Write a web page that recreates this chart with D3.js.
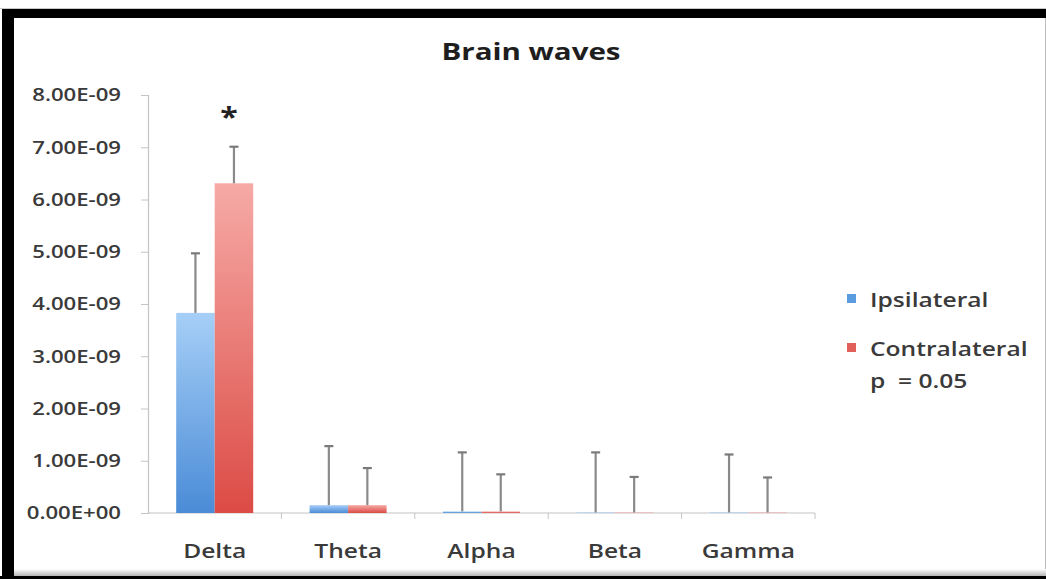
<!DOCTYPE html>
<html>
<head>
<meta charset="utf-8">
<script src="https://cdn.jsdelivr.net/npm/d3@7"></script>
<style>
  html, body { margin: 0; padding: 0; background: #fff; }
  svg { display: block; }
</style>
</head>
<body>
<svg id="chart" width="1046" height="579"></svg>
<script>
// Band power per frequency band, ipsilateral vs contralateral hemisphere
const categories = ["Delta", "Theta", "Alpha", "Beta", "Gamma"];
const seriesNames = ["Ipsilateral", "Contralateral"];
const ipsilateral = [3.83e-9, 0.15e-9, 0.03e-9, 0.01e-9, 0.01e-9];
const contralateral = [6.31e-9, 0.15e-9, 0.03e-9, 0.01e-9, 0.01e-9];
const ipsilateralErr = [1.14e-9, 1.13e-9, 1.13e-9, 1.15e-9, 1.11e-9];
const contralateralErr = [0.70e-9, 0.71e-9, 0.71e-9, 0.68e-9, 0.67e-9];
const yTicks = [0, 1e-9, 2e-9, 3e-9, 4e-9, 5e-9, 6e-9, 7e-9, 8e-9];
const significant = ["Delta"];
const legendNote = "p  = 0.05";

const FONT = "'Open Sans', 'DejaVu Sans', sans-serif";
const STRETCH = 1.23; // the slide's lettering is set wide
const svg = d3.select("#chart");

// Frame around the slide
svg.append("rect").attr("x", 0).attr("y", 0).attr("width", 1046).attr("height", 579).attr("fill", "#fff");
svg.append("line").attr("x1", 0).attr("x2", 1046).attr("y1", 8.5).attr("y2", 8.5).attr("stroke", "#c8c8c8");
svg.append("rect").attr("x", 5).attr("y", 9).attr("width", 1041).attr("height", 9).attr("fill", "#000");
svg.append("rect").attr("x", 2).attr("y", 9).attr("width", 12).attr("height", 570).attr("fill", "#000");
svg.append("line").attr("x1", 1045.5).attr("x2", 1045.5).attr("y1", 18).attr("y2", 579).attr("stroke", "#bdbdbd");
const defs = svg.append("defs");
const fade = defs.append("linearGradient").attr("id", "bottomFade").attr("x1", 0).attr("x2", 0).attr("y1", 0).attr("y2", 1);
fade.append("stop").attr("offset", 0).attr("stop-color", "#fff");
fade.append("stop").attr("offset", 1).attr("stop-color", "#b5b5b5");
svg.append("rect").attr("x", 14).attr("y", 569).attr("width", 1032).attr("height", 7).attr("fill", "url(#bottomFade)");
svg.append("rect").attr("x", 0).attr("y", 576).attr("width", 1046).attr("height", 3).attr("fill", "#000");

// Bar fills: lighter at the top, deeper at the base
function barGradient(id, top, bottom) {
  const g = defs.append("linearGradient").attr("id", id).attr("x1", 0).attr("x2", 0).attr("y1", 0).attr("y2", 1);
  g.append("stop").attr("offset", 0).attr("stop-color", top);
  g.append("stop").attr("offset", 1).attr("stop-color", bottom);
}
barGradient("gradIpsi", "#a6cff7", "#4a8bd7");
barGradient("gradContra", "#f6aaa6", "#dc4b45");
const fills = { Ipsilateral: "url(#gradIpsi)", Contralateral: "url(#gradContra)" };
const swatch = { Ipsilateral: "#5b9be0", Contralateral: "#e2605a" };

// Scales
const x0 = d3.scaleBand().domain(categories).range([148, 815]).paddingInner(0).paddingOuter(0);
const x1 = d3.scaleBand().domain(seriesNames).range([0, x0.bandwidth()]).paddingInner(0).paddingOuter(0.732);
const y = d3.scaleLinear().domain([0, 8e-9]).range([513, 95]);

const rows = categories.map((c, i) => ({
  category: c,
  values: [
    { series: "Ipsilateral", value: ipsilateral[i], err: ipsilateralErr[i] },
    { series: "Contralateral", value: contralateral[i], err: contralateralErr[i] }
  ]
}));

// Y axis
const fmt = v => {
  if (v === 0) return "0.00E+00";
  const e = Math.floor(Math.log10(v) + 1e-9);
  const m = v / Math.pow(10, e);
  return m.toFixed(2) + "E" + (e < 0 ? "-" : "+") + String(Math.abs(e)).padStart(2, "0");
};
const yAxis = svg.append("g").attr("transform", "translate(148,0)")
  .call(d3.axisLeft(y).tickValues(yTicks).tickFormat(fmt).tickSize(7).tickPadding(20));
yAxis.select(".domain").attr("stroke", "#c4c4c4").attr("stroke-width", 1.2);
yAxis.selectAll(".tick line").attr("stroke", "#c4c4c4");
yAxis.selectAll(".tick text").attr("fill", "#3a3a3a").attr("font-family", FONT)
  .attr("font-size", 18).attr("font-weight", 600);

// X axis with ticks at category boundaries
const xAxisG = svg.append("g").attr("transform", "translate(0,513)");
xAxisG.append("line").attr("x1", 148).attr("x2", 815).attr("y1", 0).attr("y2", 0)
  .attr("stroke", "#c4c4c4").attr("stroke-width", 1.2);
const boundaries = categories.map(c => x0(c)).concat([x0(categories[categories.length - 1]) + x0.bandwidth()]);
xAxisG.selectAll("line.b").data(boundaries.slice(1)).join("line").attr("class", "b")
  .attr("x1", d => d).attr("x2", d => d).attr("y1", 0).attr("y2", 6).attr("stroke", "#c4c4c4");
xAxisG.selectAll("text").data(categories).join("text")
  .attr("x", d => x0(d) + x0.bandwidth() / 2).attr("y", 45)
  .attr("text-anchor", "middle").attr("fill", "#3a3a3a")
  .attr("font-family", FONT).attr("font-size", 20).attr("font-weight", 600)
  .text(d => d);

// Bars
const groups = svg.append("g").selectAll("g").data(rows).join("g")
  .attr("transform", d => `translate(${x0(d.category)},0)`);
groups.selectAll("rect").data(d => d.values).join("rect")
  .attr("x", d => x1(d.series)).attr("width", x1.bandwidth())
  .attr("y", d => y(d.value)).attr("height", d => y(0) - y(d.value))
  .attr("fill", d => fills[d.series]);

// Error bars (upper only)
groups.selectAll("g.err").data(d => d.values).join("g").attr("class", "err")
  .each(function (d) {
    const cx = x1(d.series) + x1.bandwidth() / 2;
    const g = d3.select(this);
    g.append("line").attr("x1", cx).attr("x2", cx).attr("y1", y(d.value)).attr("y2", y(d.value + d.err))
      .attr("stroke", "#8a8a8a").attr("stroke-width", 2.2);
    g.append("line").attr("x1", cx - 4.5).attr("x2", cx + 4.5).attr("y1", y(d.value + d.err)).attr("y2", y(d.value + d.err))
      .attr("stroke", "#7a7a7a").attr("stroke-width", 2.2);
  });

// Significance marker
svg.append("g").selectAll("text").data(significant).join("text")
  .attr("x", d => x0(d) + x1("Contralateral") + x1.bandwidth() / 2 - 5)
  .attr("y", d => y(contralateral[categories.indexOf(d)] + contralateralErr[categories.indexOf(d)]) - 20)
  .attr("text-anchor", "middle").attr("font-family", FONT).attr("font-size", 26).attr("font-weight", 700)
  .attr("fill", "#222").text("*");

// Title
svg.append("text").attr("x", 531).attr("y", 60).attr("text-anchor", "middle")
  .attr("font-family", FONT).attr("font-size", 24).attr("font-weight", 700).attr("fill", "#1e1e1e")
  .text("Brain waves");

// Legend
const legend = svg.append("g").attr("transform", "translate(847,0)");
const legendY = { Ipsilateral: 300, Contralateral: 349 };
seriesNames.forEach(s => {
  legend.append("rect").attr("x", 0).attr("y", legendY[s] - 6).attr("width", 9).attr("height", 9).attr("fill", swatch[s]);
  legend.append("text").attr("x", 23).attr("y", legendY[s] + 7)
    .attr("font-family", FONT).attr("font-size", 20).attr("font-weight", 600).attr("fill", "#3a3a3a").text(s);
});
legend.append("text").attr("x", 23).attr("y", 388)
  .attr("font-family", FONT).attr("font-size", 20).attr("font-weight", 600).attr("fill", "#3a3a3a")
  .attr("xml:space", "preserve").style("white-space", "pre").text(legendNote);

// Widen all lettering horizontally around each text's own anchor point
svg.selectAll("text").each(function () {
  const t = d3.select(this);
  const x = +(t.attr("x") || 0);
  t.attr("x", x / STRETCH).attr("transform", `scale(${STRETCH},1)`);
});
</script>
</body>
</html>
